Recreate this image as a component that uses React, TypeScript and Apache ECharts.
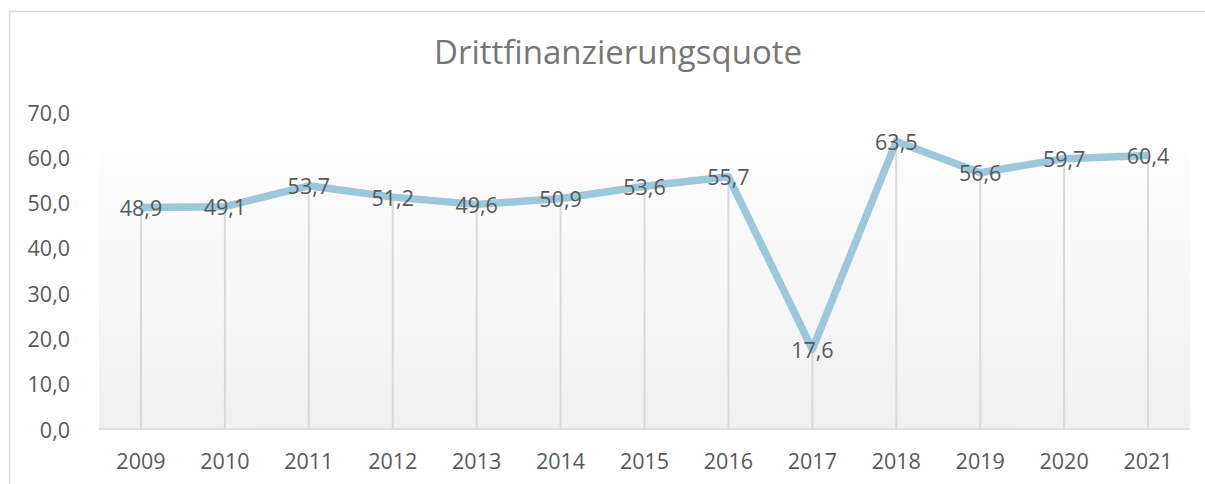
import React, { useEffect, useRef } from "react";
import * as echarts from "echarts";

const years = ["2009", "2010", "2011", "2012", "2013", "2014", "2015", "2016", "2017", "2018", "2019", "2020", "2021"];
const quote = [48.9, 49.1, 53.7, 51.2, 49.6, 50.9, 53.6, 55.7, 17.6, 63.5, 56.6, 59.7, 60.4];
const titleText = "Drittfinanzierungsquote";

const fmt = (v: number) => v.toFixed(1).replace(".", ",");

export default function App() {
  const ref = useRef<HTMLDivElement>(null);
  useEffect(() => {
    if (!ref.current) return;
    const chart = echarts.init(ref.current, undefined, { renderer: "svg" });
    const font = "'Open Sans', sans-serif";
    chart.setOption({
      animation: false,
      backgroundColor: "#ffffff",
      title: {
        text: titleText,
        left: 613,
        top: 30,
        textAlign: "center",
        textStyle: { fontFamily: font, fontSize: 33, fontWeight: "normal", color: "#767676" },
      },
      graphic: [
        {
          type: "rect",
          z: -10,
          silent: true,
          shape: { x: 9.5, y: 11.5, width: 1210, height: 500 },
          style: { fill: "#ffffff", stroke: "#d9d9d9", lineWidth: 1.5 },
        },
        {
          type: "rect",
          z: -9,
          silent: true,
          shape: { x: 99, y: 152, width: 1091, height: 277 },
          style: {
            fill: new echarts.graphic.LinearGradient(0, 0, 0, 1, [
              { offset: 0, color: "#fdfdfd" },
              { offset: 1, color: "#f0f0f0" },
            ]),
          },
        },
      ],
      grid: { left: 99, right: 15, top: 112, bottom: 55, containLabel: false },
      xAxis: {
        type: "category",
        data: years,
        boundaryGap: true,
        axisLine: { show: true, lineStyle: { color: "#d9d9d9", width: 1.5 } },
        axisTick: { show: false },
        splitLine: { show: false },
        axisLabel: { color: "#595959", fontFamily: font, fontSize: 21.5, margin: 20 },
      },
      yAxis: {
        type: "value",
        min: 0,
        max: 70,
        interval: 10,
        axisLine: { show: false },
        axisTick: { show: false },
        splitLine: { show: false },
        axisLabel: { color: "#595959", fontFamily: font, fontSize: 21.5, margin: 29, formatter: (v: number) => fmt(v) },
      },
      series: [
        {
          type: "bar",
          data: quote,
          barWidth: 2,
          silent: true,
          z: 1,
          itemStyle: { color: "#d9d9d9" },
        },
        {
          type: "line",
          data: quote,
          z: 3,
          symbol: "circle",
          symbolSize: 1,
          itemStyle: { color: "#9bc8da" },
          lineStyle: { color: "#9bc8da", width: 7.5, join: "round" },
          label: {
            show: true,
            position: "inside",
            color: "#595959",
            fontFamily: font,
            fontSize: 21.5,
            formatter: (p: any) => fmt(p.value),
          },
        },
      ],
    });
    return () => chart.dispose();
  }, []);
  return <div ref={ref} style={{ position: "absolute", left: 0, top: 0, width: 1205, height: 484 }} />;
}
